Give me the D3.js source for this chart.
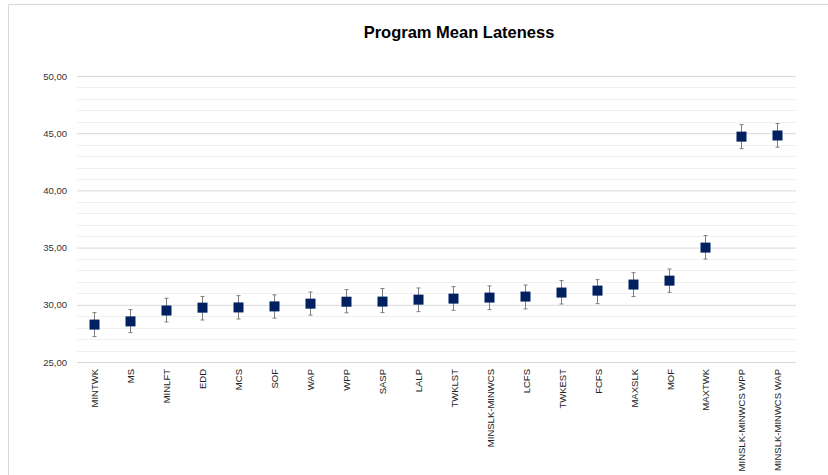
<!DOCTYPE html>
<html>
<head>
<meta charset="utf-8">
<script src="https://cdn.jsdelivr.net/npm/d3@7"></script>
<style>
  html, body { margin: 0; padding: 0; background: #fff; }
  svg { display: block; }
</style>
</head>
<body>
<svg id="chart" width="828" height="475"></svg>
<script>
// Dispatching rules, ordered by mean lateness
const categories = [
  "MINTWK", "MS", "MINLFT", "EDD", "MCS", "SOF", "WAP", "WPP", "SASP", "LALP",
  "TWKLST", "MINSLK-MINWCS", "LCFS", "TWKEST", "FCFS", "MAXSLK", "MOF", "MAXTWK",
  "MINSLK-MINWCS WPP", "MINSLK-MINWCS WAP"
];
// Mean lateness per rule
const meanValues = [
  28.27, 28.55, 29.50, 29.75, 29.77, 29.86, 30.10, 30.27, 30.28, 30.45,
  30.54, 30.63, 30.72, 31.07, 31.24, 31.77, 32.11, 35.00, 44.70, 44.80
];
// Lower and upper bounds of the interval around each mean
const lowerValues = [
  27.22, 27.57, 28.50, 28.67, 28.76, 28.83, 29.10, 29.30, 29.32, 29.40,
  29.52, 29.58, 29.64, 30.07, 30.10, 30.72, 31.09, 34.00, 43.65, 43.78
];
const upperValues = [
  29.32, 29.58, 30.57, 30.73, 30.80, 30.87, 31.12, 31.33, 31.42, 31.47,
  31.59, 31.65, 31.73, 32.12, 32.20, 32.81, 33.13, 36.05, 45.75, 45.84
];
const yTicks = [25, 30, 35, 40, 45, 50];
const yMinorTicks = d3.range(25, 50.01, 1);
const chartTitle = "Program Mean Lateness";

const svg = d3.select("#chart");
const margin = { left: 77, right: 32, top: 76, bottom: 113 };
const W = 828, H = 475;

// outer frame
svg.append("path")
  .attr("d", `M8.5,${H} V4.5 H${W}`)
  .attr("fill", "none")
  .attr("stroke", "#d9d9d9")
  .attr("stroke-width", 1);

const x = d3.scaleBand()
  .domain(categories)
  .range([margin.left, W - margin.right])
  .paddingInner(0).paddingOuter(0);

const y = d3.scaleLinear()
  .domain([25, 50])
  .range([H - margin.bottom, margin.top]);

const fmt = v => d3.format(".2f")(v).replace(".", ",");

// minor gridlines
svg.append("g")
  .selectAll("line")
  .data(yMinorTicks.filter(v => v % 5 !== 0))
  .join("line")
  .attr("x1", margin.left).attr("x2", W - margin.right)
  .attr("y1", d => Math.round(y(d)) + 0.5).attr("y2", d => Math.round(y(d)) + 0.5)
  .attr("stroke", "#f0f0f0").attr("stroke-width", 1);

// y axis with major gridlines
const yAxis = svg.append("g")
  .attr("transform", `translate(${margin.left},0)`)
  .call(d3.axisLeft(y).tickValues(yTicks).tickFormat(fmt)
    .tickSize(-(W - margin.right - margin.left)).tickPadding(10));
yAxis.select(".domain").remove();
yAxis.selectAll(".tick line").attr("stroke", "#d9d9d9");
yAxis.selectAll(".tick text")
  .attr("fill", "#333")
  .attr("font-family", "'Liberation Sans', Arial, sans-serif")
  .attr("font-size", 9.5);

// x axis labels, rotated
const xAxis = svg.append("g")
  .attr("transform", `translate(0,${H - margin.bottom})`)
  .call(d3.axisBottom(x).tickSize(0).tickPadding(0));
xAxis.select(".domain").remove();
xAxis.selectAll(".tick text")
  .attr("fill", "#222")
  .attr("font-family", "'Liberation Sans', Arial, sans-serif")
  .attr("font-size", 9.5)
  .attr("text-anchor", "end")
  .attr("dy", "0.35em")
  .attr("transform", "translate(0,7) rotate(-90)");

// error bars
const cx = d => x(d) + x.bandwidth() / 2;
const errG = svg.append("g").attr("stroke", "#7f7f7f").attr("stroke-width", 1).attr("fill", "none");
categories.forEach((c, i) => {
  const px = Math.round(cx(c)) - 0.5;
  errG.append("line").attr("x1", px).attr("x2", px).attr("y1", y(lowerValues[i])).attr("y2", y(upperValues[i]));
  errG.append("line").attr("x1", px - 2).attr("x2", px + 2).attr("y1", y(lowerValues[i])).attr("y2", y(lowerValues[i]));
  errG.append("line").attr("x1", px - 2).attr("x2", px + 2).attr("y1", y(upperValues[i])).attr("y2", y(upperValues[i]));
});

// markers
const ms = 10;
svg.append("g")
  .selectAll("rect")
  .data(categories)
  .join("rect")
  .attr("x", d => Math.round(cx(d)) - 0.5 - ms / 2)
  .attr("y", (d, i) => y(meanValues[i]) - ms / 2)
  .attr("width", ms).attr("height", ms)
  .attr("fill", "#002060");

// title
svg.append("text")
  .attr("x", 459).attr("y", 37.5)
  .attr("text-anchor", "middle")
  .attr("font-family", "'Liberation Sans', Arial, sans-serif")
  .attr("font-weight", "bold")
  .attr("font-size", 16.5)
  .attr("fill", "#000")
  .text(chartTitle);
</script>
</body>
</html>
